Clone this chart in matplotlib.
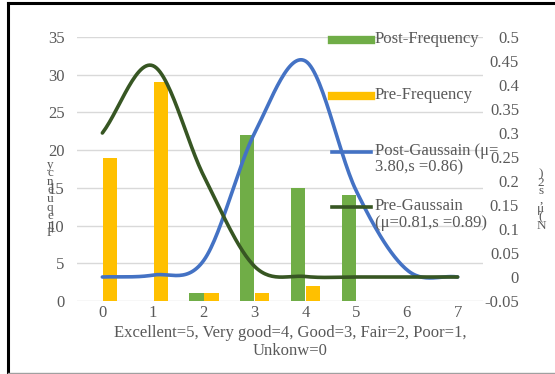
import matplotlib
matplotlib.use("Agg")
import matplotlib.pyplot as plt
from matplotlib.lines import Line2D
from matplotlib.ticker import FuncFormatter
import numpy as np

# Data
ratings = [0, 1, 2, 3, 4, 5, 6, 7]
post_freq = [0, 0, 1, 22, 15, 14, 0, 0]
pre_freq = [19, 29, 1, 1, 2, 0, 0, 0]
post_gauss = [0.0, 0.004, 0.035, 0.30, 0.45, 0.18, 0.015, 0.0]
pre_gauss = [0.30, 0.44, 0.21, 0.022, 0.001, 0.0, 0.0, 0.0]

labels = ["Post-Frequency", "Pre-Frequency",
          "Post-Gaussain (\u03bc=\n3.80,s =0.86)",
          "Pre-Gaussain\n(\u03bc=0.81,s =0.89)"]
xlabel = "Excellent=5, Very good=4, Good=3, Fair=2, Poor=1,\nUnkonw=0"

GREEN = "#70AD47"
YELLOW = "#FFC000"
BLUE = "#4472C4"
DKGREEN = "#375623"
GREY = "#595959"
FS = 12


def smooth(x, y, n=30):
    # spreadsheet-style smoothed line (Catmull-Rom through the points)
    x = np.asarray(x, float)
    y = np.asarray(y, float)
    m = np.gradient(y, x)
    xs, ys = [], []
    for i in range(len(x) - 1):
        t = np.linspace(0, 1, n)
        h = x[i + 1] - x[i]
        h00 = 2 * t**3 - 3 * t**2 + 1
        h10 = t**3 - 2 * t**2 + t
        h01 = -2 * t**3 + 3 * t**2
        h11 = t**3 - t**2
        xs.append(x[i] + t * h)
        ys.append(h00 * y[i] + h10 * h * m[i] + h01 * y[i + 1] + h11 * h * m[i + 1])
    return np.concatenate(xs), np.concatenate(ys)


plt.rcParams["font.family"] = ["Liberation Serif", "DejaVu Serif"]

W, H = 555, 374
fig = plt.figure(figsize=(W / 100, H / 100), dpi=100)
ax = fig.add_axes([77 / W, 1 - 301 / H, (483 - 77) / W, (301 - 37) / H])
ax2 = ax.twinx()

x = np.array(ratings)
ax.bar(x - 0.145, post_freq, width=0.28, color=GREEN, zorder=2)
ax.bar(x + 0.15, pre_freq, width=0.28, color=YELLOW, zorder=2)

sx, sy = smooth(ratings, post_gauss)
ax2.plot(sx, sy, color=BLUE, lw=2.6, solid_capstyle="round")
sx, sy = smooth(ratings, pre_gauss)
ax2.plot(sx, sy, color=DKGREEN, lw=2.6, solid_capstyle="round")

ax.set_xlim(-0.5, 7.5)
ax.set_ylim(0, 35)
ax.set_yticks(range(0, 36, 5))
ax.set_xticks(ratings)
ax.grid(axis="y", color="#D9D9D9", lw=1)
ax.set_axisbelow(True)
ax2.set_ylim(-0.05, 0.5)
ax2.set_yticks(np.arange(-0.05, 0.501, 0.05))
ax2.yaxis.set_major_formatter(FuncFormatter(lambda v, p: "%g" % round(v, 2)))

for a in (ax, ax2):
    for s in a.spines.values():
        s.set_visible(False)
    a.tick_params(length=0, labelsize=FS, labelcolor=GREY)
ax.tick_params(axis="y", pad=9)
ax.tick_params(axis="x", pad=3)
ax2.tick_params(axis="y", pad=26)
for lab in ax2.get_yticklabels():
    lab.set_ha("right")

# stacked axis titles
fig.text(50 / W, 1 - 199 / H, "y\nc\nn\ne\nu\nq\ne\nr\nF", ha="center", va="center",
         fontsize=9.5, linespacing=0.62, color=GREY)
fig.text(541 / W, 1 - 200 / H, ")\n2\ns\n,\n\u03bc\n(\nN", ha="center", va="center",
         fontsize=9.5, linespacing=0.62, color=GREY)

fig.text(290 / W, 1 - 342 / H, xlabel, ha="center", va="center", fontsize=FS,
         color=GREY, linespacing=1.12)

# legend drawn at the reference positions
entries = [(40, GREEN, 6), (96, YELLOW, 6), (152, BLUE, 2.6), (207, DKGREEN, 2.6)]
for (yy, col, lw), lab in zip(entries, labels):
    fig.add_artist(Line2D([332 / W, 371 / W], [1 - yy / H] * 2, color=col, lw=lw,
                          transform=fig.transFigure))
    fig.text(375 / W, 1 - (yy - 9) / H, lab, ha="left", va="top", fontsize=FS,
             color=GREY, linespacing=1.05)

# chart frame
fig.add_artist(Line2D([8 / W, 8 / W], [1 - 3 / H, 1 - 372 / H], color="black", lw=2.2,
                      transform=fig.transFigure))
fig.add_artist(Line2D([8 / W, 1], [1 - 3 / H, 1 - 3 / H], color="black", lw=2.2,
                      transform=fig.transFigure))
fig.add_artist(Line2D([8 / W, 1], [1 - 372.5 / H, 1 - 372.5 / H], color="#A0A0A0", lw=1,
                      transform=fig.transFigure))

fig.savefig("out.png", dpi=100)
